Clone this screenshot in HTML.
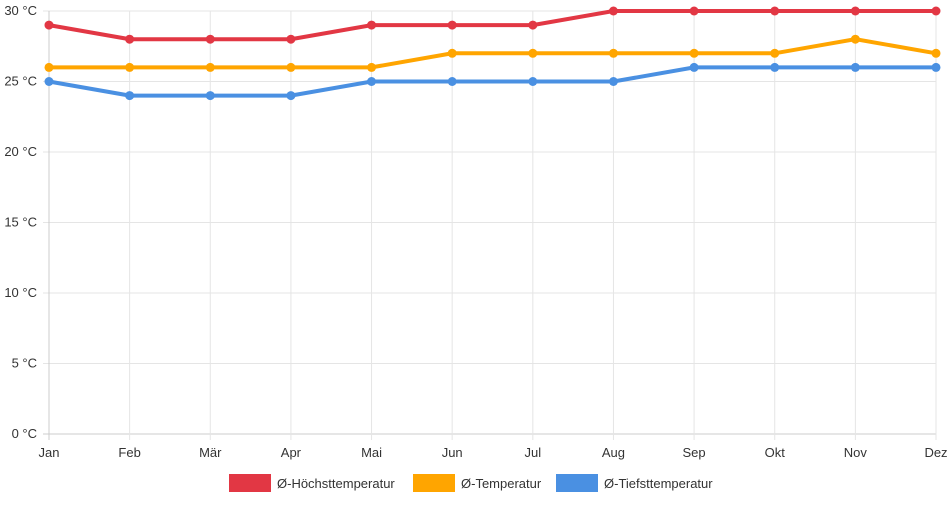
<!DOCTYPE html>
<html><head><meta charset="utf-8"><style>
body{margin:0;background:#fff;font-family:"Liberation Sans",sans-serif}
svg text{font-family:"Liberation Sans",sans-serif;font-size:13px;fill:#333}
</style></head><body>
<svg id="c" width="952" height="500"></svg>
<script>
const months=["Jan","Feb","Mär","Apr","Mai","Jun","Jul","Aug","Sep","Okt","Nov","Dez"];
const highs=[29,28,28,28,29,29,29,30,30,30,30,30];
const avgs=[26,26,26,26,26,27,27,27,27,27,28,27];
const lows=[25,24,24,24,25,25,25,25,26,26,26,26];
const yTicks=[0,5,10,15,20,25,30];
const seriesNames=["Ø-Höchsttemperatur","Ø-Temperatur","Ø-Tiefsttemperatur"];
const colors=["#e23744","#ffa500","#4a90e2"];
const NS="http://www.w3.org/2000/svg";
const svg=document.getElementById('c');
const x0=49,x1=936,y0=434,y1=11;
const xs=i=>x0+i*(x1-x0)/(months.length-1);
const ys=v=>y0-(v/30)*(y0-y1);
function mk(t,a,p){const e=document.createElementNS(NS,t);for(const k in a)e.setAttribute(k,a[k]);(p||svg).appendChild(e);return e;}
yTicks.forEach(v=>{
 const l=mk('line',{x1:x0-6,x2:x1,y1:ys(v),y2:ys(v),stroke:v===0?'#ccc':'#e5e5e5'});
 
 
 const t=mk('text',{x:x0-12,y:ys(v)+4,'text-anchor':'end'});t.textContent=v+' °C';
 
 
});
months.forEach((m,i)=>{
 const l=mk('line',{x1:xs(i),x2:xs(i),y1:y1,y2:y0+6,stroke:i===0?'#ccc':'#e5e5e5'});
 
 
 const t=mk('text',{x:xs(i),y:y0+23,'text-anchor':'middle'});t.textContent=m;
 
 
});
[highs,avgs,lows].forEach((d,s)=>{
 const g=mk('g',{});
 
 
 const p=mk('polyline',{points:d.map((v,i)=>xs(i)+','+ys(v)).join(' '),fill:'none',stroke:colors[s],'stroke-width':4},g);
 
 
 d.forEach((v,i)=>{const c=mk('circle',{cx:xs(i),cy:ys(v),r:4.5,fill:colors[s]},g);
  
  });
});
const lx=[229,413,556];
seriesNames.forEach((n,s)=>{
 const g=mk('g',{});
 
 
 mk('rect',{x:lx[s],y:474,width:42,height:18,fill:colors[s]},g);
 const t=mk('text',{x:lx[s]+48,y:488},g);t.textContent=n;
});
</script>
</body></html>
